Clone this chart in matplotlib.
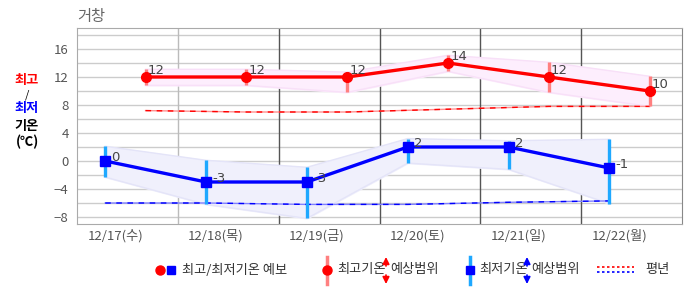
import numpy as np
import matplotlib
matplotlib.use("Agg")
import matplotlib.pyplot as plt

plt.rcParams['font.family'] = ['Noto Sans CJK KR', 'DejaVu Sans']

# data
days = ["12/17(수)", "12/18(목)", "12/19(금)", "12/20(토)", "12/21(일)", "12/22(월)"]
tmax = [12, 12, 12, 14, 12, 10]
tmax_hi = [13.1, 13.1, 12.7, 15.1, 14.1, 12.1]
tmax_lo = [10.8, 10.8, 9.8, 12.8, 9.8, 7.8]
tmin = [0, -3, -3, 2, 2, -1]
tmin_hi = [2.1, 0.1, -0.9, 3.2, 2.9, 3.1]
tmin_lo = [-2.3, -6.2, -8.2, -0.3, -1.2, -6.1]
norm_max = [7.2, 7.0, 7.0, 7.4, 7.8, 7.8]
norm_min = [-6.0, -6.0, -6.2, -6.2, -5.9, -5.7]

# position of min / max inside each day cell
n = len(days)
x_min = np.arange(n) + 0.28
x_max = np.arange(n) + 0.68

W, H = 686, 295
fig = plt.figure(figsize=(W / 100, H / 100), dpi=100)
ax = fig.add_axes([77 / W, 1 - 224 / H, (682 - 77) / W, (224 - 28) / H])
ax.set_xlim(0, n)
ax.set_ylim(-9, 19)

# grid
for y in range(-8, 19, 2):
    ax.axhline(y, color="#cccccc", lw=1, zorder=0)
for i in range(1, n):
    ax.axvline(i, color="#bbbbbb" if i == 1 else "#555555", lw=1, zorder=0)
for s in ax.spines.values():
    s.set_color("#aaaaaa")
ax.spines["right"].set_color("#888888")

# max band / bars
ax.fill_between(x_max, tmax_lo, tmax_hi, color="#fdeefd", zorder=1)
ax.plot(x_max, tmax_hi, color="#f8e0f8", lw=1, zorder=1)
ax.plot(x_max, tmax_lo, color="#f8e0f8", lw=1, zorder=1)
ax.vlines(x_max, tmax_lo, tmax_hi, color="#ff8080", lw=2.4, zorder=3)

# min band / bars
ax.fill_between(x_min, tmin_lo, tmin_hi, color="#f0f0fc", zorder=1)
ax.plot(x_min, tmin_hi, color="#e4e4f8", lw=1, zorder=1)
ax.plot(x_min, tmin_lo, color="#e4e4f8", lw=1, zorder=1)
ax.vlines(x_min, tmin_lo, tmin_hi, color="#1ea8ff", lw=2.4, zorder=3)

# normals
ax.plot(x_max, norm_max, color="#ff9090", lw=1, zorder=2)
ax.plot(x_max, norm_max, color="red", lw=1, ls=(0, (4, 4)), zorder=2)
ax.plot(x_min, norm_min, color="#8080ff", lw=1, zorder=2)
ax.plot(x_min, norm_min, color="blue", lw=1, ls=(0, (4, 4)), zorder=2)

# forecasts
ax.plot(x_max, tmax, color="red", lw=2.4, marker="o", ms=7, zorder=4)
ax.plot(x_min, tmin, color="blue", lw=2.4, marker="s", ms=7, zorder=4)
for x, v in zip(x_max, tmax):
    ax.annotate(str(v), (x, v), xytext=(1.5, 0), textcoords="offset points",
                ha="left", va="bottom", fontsize=9.5, color="#444444",
                family="DejaVu Sans", zorder=5)
for x, v in zip(x_min, tmin):
    ax.annotate(str(v), (x, v), xytext=(4.5, -2), textcoords="offset points",
                ha="left", va="bottom", fontsize=9.5, color="#444444",
                family="DejaVu Sans", zorder=5)

# ticks
ax.set_yticks(range(-8, 17, 4))
ax.set_xticks(np.arange(n) + 0.38)
ax.set_xticklabels(days)
ax.tick_params(length=0, labelsize=9.5, labelcolor="#555555")
ax.tick_params(axis="y", pad=6)
ax.tick_params(axis="x", pad=4)

# title and side label
fig.text(77 / W, 1 - 17 / H, "거창", fontsize=11, color="#666666", va="center")
fig.text(27 / W, 1 - 80 / H, "최고", fontsize=9.5, color="red", weight="bold", ha="center", va="center")
fig.text(27 / W, 1 - 95 / H, "/", fontsize=8, color="black", ha="center", va="center")
fig.text(27 / W, 1 - 108 / H, "최저", fontsize=9.5, color="blue", weight="bold", ha="center", va="center")
fig.text(27 / W, 1 - 126 / H, "기온", fontsize=9.5, color="black", weight="bold", ha="center", va="center")
fig.text(27 / W, 1 - 142 / H, "(℃)", fontsize=9.5, color="black", weight="bold", ha="center", va="center")

# legend drawn in pixel coords
lg = fig.add_axes([0, 0, 1, 1], zorder=-1)
lg.set_xlim(0, W)
lg.set_ylim(H, 0)
lg.axis("off")
ly = 270
fs = 9.5
lg.plot(160, ly, "o", color="red", ms=6.5)
lg.plot(171, ly, "s", color="blue", ms=6)
lg.text(182, ly, "최고/최저기온 예보", fontsize=fs, color="#333333", va="center")

arrow_kw = dict(arrowstyle="-|>", lw=1.2, mutation_scale=10, shrinkA=0, shrinkB=0)
lg.plot([327, 327], [257, 284], color="#ff8080", lw=2.5)
lg.plot(327, ly, "o", color="red", ms=6.5)
lg.text(337, ly, "최고기온", fontsize=fs, color="#333333", va="center")
lg.annotate("", (386, 257), (386, 266), arrowprops=dict(color="red", **arrow_kw))
lg.annotate("", (386, 284), (386, 275), arrowprops=dict(color="red", **arrow_kw))
lg.text(390, ly, "예상범위", fontsize=fs, color="#333333", va="center")

lg.plot([470, 470], [257, 284], color="#1ea8ff", lw=2.5)
lg.plot(470, ly, "s", color="blue", ms=6)
lg.text(479, ly, "최저기온", fontsize=fs, color="#333333", va="center")
lg.annotate("", (527, 257), (527, 266), arrowprops=dict(color="blue", **arrow_kw))
lg.annotate("", (527, 284), (527, 275), arrowprops=dict(color="blue", **arrow_kw))
lg.text(531, ly, "예상범위", fontsize=fs, color="#333333", va="center")

lg.plot([597, 634], [267, 267], color="red", lw=1.2, ls=(0, (1.5, 1.5)))
lg.plot([597, 634], [272, 272], color="blue", lw=1.2, ls=(0, (1.5, 1.5)))
lg.text(645, ly, "평년", fontsize=fs, color="#333333", va="center")

fig.savefig("out.png", dpi=100)
